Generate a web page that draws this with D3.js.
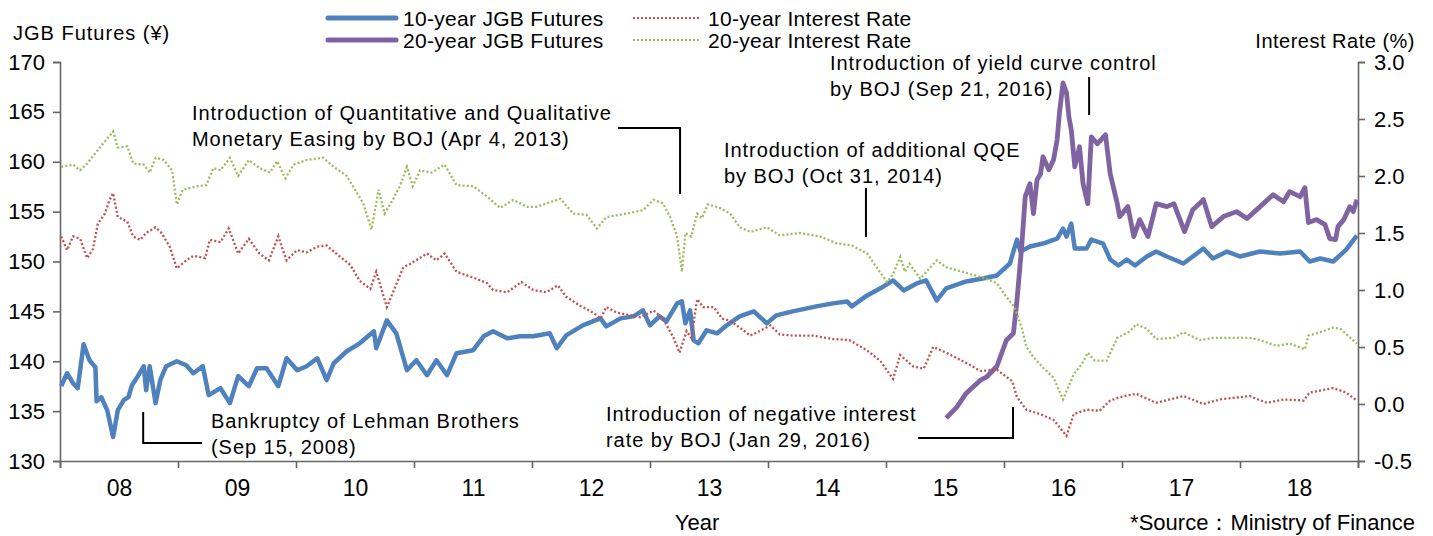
<!DOCTYPE html>
<html>
<head>
<meta charset="utf-8">
<script src="https://cdn.jsdelivr.net/npm/d3@7"></script>
<style>
  body { margin: 0; background: #fff; }
  text { font-family: "Liberation Sans", Arial, sans-serif; fill: #000; }
  .ann { font-size: 20px; letter-spacing: 0.95px; }
</style>
</head>
<body>
<div class="chart"></div>
<script>
// [decimal year, value]
var jgb10 = [[2008.01,137.5],[2008.06,138.8],[2008.11,137.8],[2008.15,137.3],[2008.20,141.7],[2008.25,140.1],[2008.30,139.4],[2008.31,136.0],[2008.35,136.4],[2008.40,135.1],[2008.45,132.4],[2008.49,135.1],[2008.54,136.1],[2008.58,136.4],[2008.61,137.6],[2008.66,138.5],[2008.71,139.5],[2008.73,137.1],[2008.76,139.5],[2008.81,135.8],[2008.85,138.1],[2008.90,139.5],[2008.99,140.0],[2009.07,139.6],[2009.13,138.8],[2009.21,139.5],[2009.26,136.6],[2009.36,137.3],[2009.44,135.8],[2009.51,138.5],[2009.60,137.5],[2009.67,139.3],[2009.75,139.3],[2009.85,137.5],[2009.92,140.3],[2010.01,139.1],[2010.09,139.5],[2010.18,140.3],[2010.26,138.1],[2010.32,139.8],[2010.43,141.0],[2010.54,141.8],[2010.66,143.0],[2010.68,141.3],[2010.77,144.1],[2010.85,142.8],[2010.94,139.1],[2011.02,140.1],[2011.11,138.6],[2011.19,140.1],[2011.28,138.6],[2011.36,140.8],[2011.50,141.1],[2011.59,142.5],[2011.67,143.0],[2011.79,142.3],[2011.90,142.5],[2012.01,142.5],[2012.15,142.8],[2012.21,141.3],[2012.29,142.6],[2012.43,143.6],[2012.58,144.3],[2012.63,143.5],[2012.75,144.3],[2012.86,144.5],[2012.94,145.1],[2013.00,143.6],[2013.08,144.5],[2013.14,144.0],[2013.23,145.8],[2013.27,146.0],[2013.30,143.8],[2013.34,145.1],[2013.37,142.1],[2013.41,141.8],[2013.48,143.1],[2013.57,142.8],[2013.65,143.6],[2013.76,144.5],[2013.88,145.0],[2013.99,143.8],[2014.07,144.6],[2014.21,145.0],[2014.41,145.5],[2014.55,145.8],[2014.67,146.0],[2014.71,145.5],[2014.84,146.6],[2014.98,147.5],[2015.06,148.1],[2015.15,147.1],[2015.26,147.8],[2015.34,148.1],[2015.43,146.1],[2015.51,147.3],[2015.68,148.0],[2015.82,148.3],[2015.94,148.6],[2016.05,149.8],[2016.11,152.2],[2016.14,151.0],[2016.22,151.5],[2016.33,151.8],[2016.45,152.3],[2016.50,153.3],[2016.53,152.5],[2016.57,153.8],[2016.60,151.3],[2016.70,151.3],[2016.74,152.2],[2016.84,151.8],[2016.90,150.2],[2016.97,149.6],[2017.04,150.2],[2017.11,149.6],[2017.21,150.5],[2017.29,151.0],[2017.38,150.5],[2017.52,149.8],[2017.60,150.5],[2017.69,151.3],[2017.77,150.3],[2017.89,151.0],[2018.00,150.5],[2018.17,151.0],[2018.34,150.8],[2018.51,151.0],[2018.59,150.0],[2018.68,150.3],[2018.79,150.0],[2018.90,151.2],[2018.99,152.6]];

var jgb20 = [[2015.51,134.3],[2015.60,135.4],[2015.68,136.8],[2015.80,138.1],[2015.85,138.4],[2015.94,139.5],[2016.02,142.1],[2016.08,142.8],[2016.11,146.1],[2016.15,151.5],[2016.18,156.5],[2016.22,157.8],[2016.25,154.8],[2016.28,158.2],[2016.31,158.8],[2016.33,160.5],[2016.38,159.2],[2016.42,160.2],[2016.45,162.2],[2016.47,164.9],[2016.50,167.9],[2016.53,166.9],[2016.55,164.5],[2016.57,163.2],[2016.60,159.5],[2016.64,161.5],[2016.67,157.8],[2016.71,155.8],[2016.74,162.5],[2016.79,161.8],[2016.86,162.7],[2016.90,158.8],[2016.96,155.8],[2016.98,154.5],[2017.05,155.5],[2017.10,152.5],[2017.15,154.2],[2017.22,152.5],[2017.29,155.8],[2017.38,155.5],[2017.44,155.8],[2017.53,153.0],[2017.60,155.2],[2017.69,156.2],[2017.76,153.5],[2017.86,154.5],[2017.97,155.0],[2018.06,154.3],[2018.17,155.5],[2018.28,156.7],[2018.37,156.0],[2018.42,157.0],[2018.51,156.5],[2018.55,157.4],[2018.58,153.9],[2018.65,154.2],[2018.72,153.7],[2018.76,152.3],[2018.81,152.2],[2018.83,153.5],[2018.88,154.2],[2018.93,155.5],[2018.96,155.0],[2018.99,156.2]];

var rate10 = [[2008.01,1.47],[2008.06,1.35],[2008.11,1.47],[2008.17,1.45],[2008.23,1.28],[2008.28,1.36],[2008.32,1.58],[2008.38,1.67],[2008.42,1.79],[2008.45,1.85],[2008.49,1.64],[2008.57,1.60],[2008.62,1.47],[2008.68,1.44],[2008.73,1.50],[2008.81,1.55],[2008.86,1.50],[2008.93,1.38],[2008.99,1.19],[2009.07,1.26],[2009.13,1.30],[2009.23,1.28],[2009.27,1.44],[2009.36,1.42],[2009.43,1.54],[2009.51,1.32],[2009.60,1.45],[2009.69,1.32],[2009.77,1.26],[2009.85,1.47],[2009.92,1.26],[2010.01,1.35],[2010.09,1.33],[2010.18,1.38],[2010.26,1.39],[2010.34,1.32],[2010.46,1.22],[2010.54,1.08],[2010.63,1.01],[2010.68,1.16],[2010.77,0.85],[2010.91,1.20],[2010.97,1.23],[2011.11,1.32],[2011.19,1.26],[2011.26,1.32],[2011.36,1.16],[2011.50,1.11],[2011.62,1.06],[2011.67,1.00],[2011.79,0.98],[2011.91,1.07],[2012.01,1.00],[2012.12,0.98],[2012.22,1.04],[2012.29,0.94],[2012.41,0.86],[2012.52,0.80],[2012.58,0.75],[2012.63,0.85],[2012.72,0.80],[2012.83,0.78],[2012.92,0.76],[2013.03,0.82],[2013.11,0.75],[2013.20,0.58],[2013.25,0.45],[2013.31,0.64],[2013.35,0.58],[2013.40,0.92],[2013.45,0.85],[2013.54,0.85],[2013.61,0.75],[2013.68,0.73],[2013.76,0.67],[2013.85,0.60],[2013.93,0.64],[2014.02,0.69],[2014.10,0.61],[2014.21,0.60],[2014.38,0.60],[2014.55,0.57],[2014.69,0.56],[2014.84,0.47],[2014.95,0.38],[2015.06,0.22],[2015.12,0.43],[2015.23,0.33],[2015.32,0.31],[2015.40,0.50],[2015.51,0.45],[2015.68,0.36],[2015.80,0.29],[2015.94,0.30],[2016.07,0.20],[2016.11,0.06],[2016.19,-0.05],[2016.31,-0.09],[2016.42,-0.14],[2016.53,-0.28],[2016.59,-0.09],[2016.70,-0.05],[2016.81,-0.06],[2016.90,0.03],[2016.98,0.06],[2017.12,0.09],[2017.29,0.01],[2017.52,0.07],[2017.69,0.00],[2017.83,0.04],[2018.08,0.07],[2018.23,0.01],[2018.37,0.04],[2018.54,0.03],[2018.59,0.10],[2018.79,0.14],[2018.90,0.10],[2018.99,0.03]];

var rate20 = [[2008.01,2.08],[2008.11,2.10],[2008.17,2.05],[2008.23,2.11],[2008.30,2.20],[2008.37,2.29],[2008.45,2.39],[2008.49,2.25],[2008.57,2.26],[2008.62,2.11],[2008.71,2.10],[2008.76,2.03],[2008.81,2.16],[2008.88,2.14],[2008.95,2.05],[2008.99,1.75],[2009.04,1.88],[2009.16,1.91],[2009.24,1.92],[2009.30,2.07],[2009.36,2.05],[2009.44,2.16],[2009.51,2.00],[2009.60,2.14],[2009.69,2.07],[2009.78,2.03],[2009.84,2.13],[2009.91,1.98],[2009.98,2.10],[2010.09,2.14],[2010.23,2.16],[2010.32,2.08],[2010.43,2.00],[2010.50,1.88],[2010.57,1.76],[2010.64,1.53],[2010.70,1.88],[2010.75,1.67],[2010.82,1.79],[2010.88,1.91],[2010.94,2.08],[2010.99,1.91],[2011.05,2.05],[2011.15,2.03],[2011.26,2.10],[2011.36,1.92],[2011.50,1.91],[2011.62,1.82],[2011.73,1.72],[2011.84,1.79],[2011.96,1.73],[2012.04,1.73],[2012.24,1.80],[2012.35,1.67],[2012.46,1.66],[2012.55,1.54],[2012.63,1.64],[2012.80,1.67],[2012.94,1.70],[2013.03,1.79],[2013.11,1.76],[2013.17,1.64],[2013.23,1.47],[2013.27,1.16],[2013.30,1.50],[2013.35,1.47],[2013.40,1.67],[2013.44,1.63],[2013.49,1.75],[2013.59,1.72],[2013.68,1.67],[2013.76,1.55],[2013.85,1.51],[2013.99,1.55],[2014.10,1.48],[2014.27,1.50],[2014.44,1.47],[2014.58,1.41],[2014.71,1.39],[2014.84,1.32],[2014.92,1.20],[2015.01,1.07],[2015.06,1.14],[2015.12,1.29],[2015.16,1.16],[2015.20,1.23],[2015.29,1.10],[2015.43,1.26],[2015.51,1.20],[2015.68,1.15],[2015.85,1.10],[2015.94,1.06],[2016.02,0.94],[2016.09,0.85],[2016.15,0.67],[2016.19,0.50],[2016.25,0.41],[2016.33,0.32],[2016.42,0.23],[2016.50,0.04],[2016.59,0.26],[2016.66,0.35],[2016.71,0.45],[2016.77,0.38],[2016.87,0.38],[2016.96,0.58],[2017.07,0.64],[2017.12,0.70],[2017.21,0.66],[2017.29,0.57],[2017.44,0.58],[2017.52,0.63],[2017.66,0.56],[2017.77,0.58],[2017.94,0.58],[2018.08,0.58],[2018.17,0.56],[2018.31,0.51],[2018.42,0.53],[2018.55,0.48],[2018.58,0.60],[2018.68,0.63],[2018.79,0.67],[2018.85,0.66],[2018.99,0.53]];

var yearLabels = ["08", "09", "10", "11", "12", "13", "14", "15", "16", "17", "18"];
var leftTicks = [130, 135, 140, 145, 150, 155, 160, 165, 170];
var rightTicks = [-0.5, 0, 0.5, 1.0, 1.5, 2.0, 2.5, 3.0];

var events = [
  { date: "2008-09-15", lines: ["Bankruptcy of Lehman Brothers", "(Sep 15, 2008)"] },
  { date: "2013-04-04", lines: ["Introduction of Quantitative and Qualitative", "Monetary Easing by BOJ (Apr 4, 2013)"] },
  { date: "2014-10-31", lines: ["Introduction of additional QQE", "by BOJ (Oct 31, 2014)"] },
  { date: "2016-01-29", lines: ["Introduction of negative interest", "rate by BOJ (Jan 29, 2016)"] },
  { date: "2016-09-21", lines: ["Introduction of yield curve control", "by BOJ (Sep 21, 2016)"] }
];

var svgWidth = 1433;
var svgHeight = 536;
var plot = { left: 60, right: 1358, top: 62, bottom: 461 };

var svg = d3.select(".chart").append("svg")
  .attr("width", svgWidth)
  .attr("height", svgHeight);

var x = d3.scaleLinear().domain([2008, 2019]).range([plot.left, plot.right]);
var yL = d3.scaleLinear().domain([130, 170]).range([plot.bottom, plot.top]);
var yR = d3.scaleLinear().domain([-0.5, 3.0]).range([plot.bottom, plot.top]);

function decYear(s) {
  var d = new Date(s + "T00:00:00Z");
  var y = d.getUTCFullYear();
  var a = Date.UTC(y, 0, 1), b = Date.UTC(y + 1, 0, 1);
  return y + (d - a) / (b - a);
}

// axes
var xAxis = svg.append("g")
  .attr("transform", `translate(0, ${plot.bottom})`)
  .call(d3.axisBottom(x).tickValues(d3.range(2008, 2020)).tickSize(7).tickFormat(""));

// year labels sit between the year ticks
xAxis.selectAll(".tick")
  .filter(d => d < 2019)
  .append("text")
  .attr("x", x(2008.5) - x(2008))
  .attr("y", 35)
  .attr("text-anchor", "middle")
  .style("font-size", "23px")
  .text(d => yearLabels[d - 2008]);

var lAxis = svg.append("g")
  .attr("transform", `translate(${plot.left}, 0)`)
  .call(d3.axisLeft(yL).tickValues(leftTicks).tickSize(7).tickPadding(8));

var rAxis = svg.append("g")
  .attr("transform", `translate(${plot.right}, 0)`)
  .call(d3.axisRight(yR).tickValues(rightTicks).tickSize(7).tickPadding(9)
    .tickFormat(d => d.toFixed(1)));

[xAxis, lAxis, rAxis].forEach(function(g) {
  g.attr("font-family", null).attr("font-size", null);
  g.selectAll("path, line").attr("stroke", "#666").attr("stroke-width", 1.6);
  g.selectAll("text").attr("fill", "#000");
});
lAxis.selectAll("text").style("font-size", "22px");
rAxis.selectAll("text").style("font-size", "22px");

// series
var lineL = d3.line().x(d => x(d[0])).y(d => yL(d[1]));
var lineR = d3.line().x(d => x(d[0])).y(d => yR(d[1]));

svg.append("path").datum(jgb10)
  .attr("d", lineL).attr("fill", "none")
  .attr("stroke", "#4f81bd").attr("stroke-width", 4.5).attr("stroke-linejoin", "round");

svg.append("path").datum(jgb20)
  .attr("d", lineL).attr("fill", "none")
  .attr("stroke", "#8064a2").attr("stroke-width", 4.8).attr("stroke-linejoin", "round");

svg.append("path").datum(rate10)
  .attr("d", lineR).attr("fill", "none")
  .attr("stroke", "#c0504d").attr("stroke-width", 2.3).attr("stroke-dasharray", "2,2.2");

svg.append("path").datum(rate20)
  .attr("d", lineR).attr("fill", "none")
  .attr("stroke", "#9bbb59").attr("stroke-width", 2.3).attr("stroke-dasharray", "2,2.2");

// axis titles
svg.append("text").attr("x", 13).attr("y", 40).style("font-size", "20px").style("letter-spacing", "1px")
  .text("JGB Futures (¥)");
svg.append("text").attr("x", 1415).attr("y", 48).attr("text-anchor", "end").style("font-size", "20px").style("letter-spacing", "0.5px")
  .text("Interest Rate (%)");
svg.append("text").attr("x", 697).attr("y", 530).attr("text-anchor", "middle").style("font-size", "22px")
  .text("Year");
svg.append("text").attr("x", 1415).attr("y", 530).attr("text-anchor", "end").style("font-size", "22px")
  .text("*Source：Ministry of Finance");

// legend
var legend = [
  { name: "10-year JGB Futures", color: "#4f81bd", x: 328, y: 18, dotted: false },
  { name: "20-year JGB Futures", color: "#8064a2", x: 328, y: 40, dotted: false },
  { name: "10-year Interest Rate", color: "#c0504d", x: 633, y: 18, dotted: true },
  { name: "20-year Interest Rate", color: "#9bbb59", x: 633, y: 40, dotted: true }
];
var lg = svg.append("g").selectAll("g").data(legend).enter().append("g");
lg.append("line")
  .attr("x1", d => d.x).attr("x2", d => d.x + 68)
  .attr("y1", d => d.y).attr("y2", d => d.y)
  .attr("stroke", d => d.color)
  .attr("stroke-width", d => d.dotted ? 2 : 5)
  .attr("stroke-linecap", d => d.dotted ? "butt" : "round")
  .attr("stroke-dasharray", d => d.dotted ? "2,2" : null);
lg.append("text")
  .attr("x", d => d.x + 75).attr("y", d => d.y).attr("dy", "0.36em")
  .style("font-size", "21px").style("letter-spacing", "0.3px")
  .text(d => d.name);

// annotations: text block position, leader line relative to event date
var annLayout = [
  { tx: 211, ty: 421, leader: ex => [[ex, 412], [ex, 443], [202, 443]] },
  { tx: 192, ty: 113, leader: ex => [[618, 128], [ex, 128], [ex, 194]] },
  { tx: 724, ty: 150, leader: ex => [[ex, 188], [ex, 237]] },
  { tx: 606, ty: 414, leader: ex => [[ex, 407], [ex, 438], [918, 438]] },
  { tx: 830, ty: 63, leader: ex => [[ex, 77], [ex, 115]] }
];

events.forEach(function(ev, i) {
  var L = annLayout[i];
  var ex = x(decYear(ev.date));
  svg.append("path")
    .attr("d", d3.line()(L.leader(ex)))
    .attr("fill", "none").attr("stroke", "#000").attr("stroke-width", 2);
  ev.lines.forEach(function(t, j) {
    svg.append("text").attr("class", "ann")
      .attr("x", L.tx).attr("y", L.ty + j * 25.5).attr("dy", "0.36em")
      .text(t);
  });
});
</script>
</body>
</html>
